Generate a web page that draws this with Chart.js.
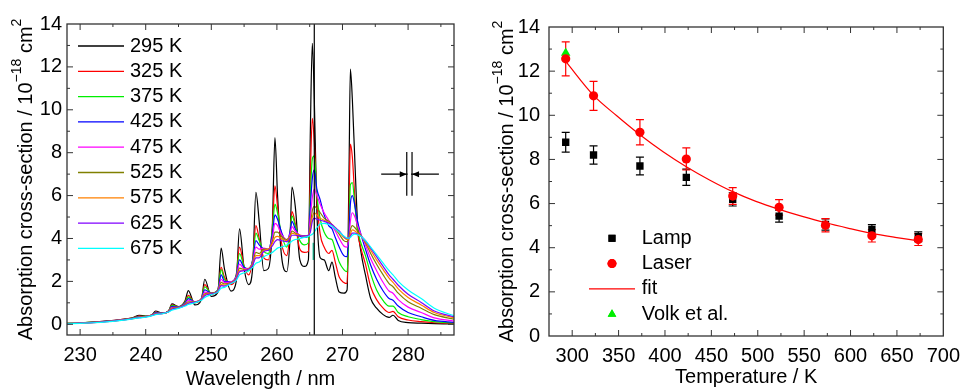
<!DOCTYPE html>
<html>
<head>
<meta charset="utf-8">
<script src="https://cdn.jsdelivr.net/npm/chart.js@4.4.0/dist/chart.umd.min.js"></script>
<style>
  body { margin: 0; background: #fff; }
  .panel { position: absolute; top: 0; width: 484px; height: 390px; }
</style>
</head>
<body>
<div class="panel" style="left:0"><canvas id="spectra" width="484" height="390"></canvas></div>
<div class="panel" style="left:484px"><canvas id="temps" width="484" height="390"></canvas></div>
<script>
// ---- left panel: absorption spectra at several temperatures ----
const wl = [228, 230, 232, 234, 236, 238, 239, 240, 241, 241.5, 242.5, 243.5, 244, 245, 246,
  246.5, 247.5, 248.5, 249, 250, 251, 251.5, 252, 253, 253.8, 254.3, 255, 255.7, 256.3,
  256.8, 257.3, 258, 258.7, 259.3, 259.7, 260.1, 260.7, 261.5, 262, 262.3, 262.8, 263.5, 264.2, 264.8,
  265.1, 265.4, 265.7, 266.1, 266.6, 267.2, 267.9, 268.4, 268.9, 269.5, 270.2, 270.7,
  271.0, 271.2, 271.5, 271.9, 272.3, 272.8, 273.5, 274.3, 275.2, 276.2, 277.1, 277.7, 278.5, 280, 282, 284, 287];

const s295 = [0.04, 0.06, 0.1, 0.15, 0.21, 0.3, 0.42, 0.38, 0.45, 0.62, 0.52, 0.62, 0.95, 0.82, 1.1,
  1.57, 0.9, 1.15, 2.1, 1.3, 1.5, 3.55, 2.6, 1.55, 2.0, 4.45, 2.6, 1.85, 2.6,
  6.15, 4.8, 2.5, 2.6, 4.5, 8.7, 6.0, 3.2, 2.45, 4.0, 6.4, 5.5, 3.0, 2.7, 3.0,
  9.0, 13.1, 10.5, 5.2, 3.1, 3.0, 2.5, 2.9, 2.2, 1.5, 1.45, 1.6,
  7.3, 11.9, 10.5, 7.5, 4.7, 3.4, 2.3, 1.2, 0.75, 0.45, 0.32, 0.42, 0.18, 0.08, 0.05, 0.03, 0.02];
const s325 = [0.04, 0.06, 0.1, 0.15, 0.21, 0.3, 0.38, 0.37, 0.44, 0.57, 0.52, 0.62, 0.9, 0.82, 1.05,
  1.35, 1.0, 1.2, 1.85, 1.4, 1.6, 2.65, 2.2, 1.85, 2.3, 3.6, 2.7, 2.3, 3.0,
  4.6, 4.0, 3.1, 3.0, 4.5, 6.45, 5.5, 3.8, 3.2, 4.2, 5.25, 4.7, 3.5, 3.35, 3.4,
  7.0, 9.6, 8.5, 5.8, 4.2, 3.6, 3.3, 3.45, 2.9, 2.2, 1.95, 1.9,
  5.5, 8.4, 7.8, 5.8, 4.3, 3.55, 2.8, 1.75, 1.15, 0.75, 0.55, 0.6, 0.35, 0.2, 0.12, 0.07, 0.04];
const s375 = [0.04, 0.06, 0.1, 0.14, 0.2, 0.29, 0.36, 0.37, 0.44, 0.55, 0.52, 0.62, 0.88, 0.81, 1.02,
  1.28, 1.02, 1.2, 1.75, 1.45, 1.6, 2.55, 2.1, 1.95, 2.3, 3.3, 2.7, 2.5, 3.0,
  4.25, 3.9, 3.4, 3.3, 4.4, 5.6, 5.2, 4.2, 3.6, 4.3, 5.05, 4.6, 3.9, 3.7, 3.8,
  6.0, 7.7, 7.85, 6.0, 4.9, 4.3, 4.0, 3.95, 3.5, 2.9, 2.55, 2.45,
  4.5, 6.5, 6.6, 5.5, 4.4, 3.8, 3.2, 2.35, 1.6, 1.1, 0.85, 0.85, 0.55, 0.35, 0.22, 0.12, 0.06];
const s425 = [0.03, 0.06, 0.09, 0.14, 0.2, 0.28, 0.35, 0.36, 0.43, 0.53, 0.52, 0.61, 0.83, 0.8, 0.98,
  1.2, 1.04, 1.2, 1.6, 1.45, 1.58, 2.3, 2.0, 1.98, 2.25, 3.0, 2.65, 2.6, 2.95,
  3.9, 3.7, 3.5, 3.45, 4.2, 5.1, 4.9, 4.3, 3.85, 4.3, 4.8, 4.45, 4.1, 4.05, 4.1,
  5.5, 6.8, 7.2, 6.3, 5.8, 5.1, 4.6, 4.45, 4.05, 3.6, 3.2, 3.15,
  4.4, 5.6, 6.0, 5.5, 4.8, 4.2, 3.5, 2.75, 2.1, 1.55, 1.2, 1.12, 0.85, 0.55, 0.35, 0.18, 0.09];
const s475 = [0.03, 0.05, 0.09, 0.13, 0.19, 0.27, 0.34, 0.36, 0.43, 0.51, 0.51, 0.6, 0.79, 0.79, 0.95,
  1.12, 1.05, 1.18, 1.5, 1.45, 1.56, 2.1, 1.95, 1.98, 2.2, 2.8, 2.6, 2.6, 2.9,
  3.6, 3.5, 3.55, 3.5, 4.0, 4.7, 4.6, 4.2, 3.95, 4.2, 4.55, 4.35, 4.15, 4.12, 4.15,
  5.0, 5.9, 6.3, 6.0, 5.6, 5.2, 4.85, 4.6, 4.35, 4.0, 3.65, 3.6,
  4.1, 4.8, 5.2, 5.0, 4.6, 4.2, 3.7, 3.05, 2.5, 1.95, 1.55, 1.45, 1.15, 0.8, 0.55, 0.3, 0.15];
const s525 = [0.03, 0.05, 0.09, 0.13, 0.19, 0.27, 0.33, 0.35, 0.42, 0.5, 0.51, 0.6, 0.76, 0.78, 0.92,
  1.05, 1.05, 1.17, 1.42, 1.45, 1.55, 1.95, 1.88, 1.95, 2.15, 2.62, 2.55, 2.6, 2.85,
  3.35, 3.3, 3.5, 3.5, 3.85, 4.3, 4.3, 4.1, 3.95, 4.1, 4.35, 4.25, 4.15, 4.12, 4.15,
  4.6, 5.3, 5.5, 5.4, 5.2, 4.95, 4.8, 4.65, 4.45, 4.2, 3.9, 3.85,
  4.05, 4.4, 4.6, 4.5, 4.35, 4.15, 3.8, 3.3, 2.8, 2.3, 1.9, 1.75, 1.45, 1.05, 0.75, 0.45, 0.24];
const s575 = [0.03, 0.05, 0.08, 0.12, 0.18, 0.26, 0.32, 0.35, 0.42, 0.49, 0.5, 0.59, 0.73, 0.77, 0.9,
  1.0, 1.04, 1.16, 1.38, 1.43, 1.53, 1.85, 1.82, 1.93, 2.1, 2.52, 2.52, 2.6, 2.8,
  3.2, 3.2, 3.45, 3.5, 3.75, 4.05, 4.1, 4.0, 3.9, 4.05, 4.25, 4.2, 4.15, 4.12, 4.15,
  4.4, 5.0, 5.2, 5.1, 4.95, 4.85, 4.75, 4.65, 4.5, 4.3, 4.05, 3.95,
  4.0, 4.2, 4.4, 4.35, 4.25, 4.1, 3.85, 3.45, 3.0, 2.55, 2.15, 1.95, 1.65, 1.25, 0.9, 0.55, 0.3];
const s625 = [0.02, 0.05, 0.08, 0.12, 0.18, 0.26, 0.31, 0.34, 0.41, 0.47, 0.5, 0.58, 0.7, 0.76, 0.88,
  0.98, 1.03, 1.15, 1.33, 1.42, 1.52, 1.8, 1.78, 1.92, 2.08, 2.45, 2.5, 2.58, 2.75,
  3.1, 3.1, 3.4, 3.45, 3.65, 3.85, 3.95, 3.9, 3.85, 4.0, 4.15, 4.15, 4.12, 4.12, 4.15,
  4.3, 4.8, 4.95, 4.9, 4.85, 4.8, 4.72, 4.65, 4.5, 4.35, 4.1, 4.0,
  4.0, 4.1, 4.25, 4.25, 4.2, 4.1, 3.9, 3.55, 3.15, 2.7, 2.3, 2.1, 1.82, 1.4, 1.02, 0.62, 0.35];
const s675 = [0.02, 0.04, 0.07, 0.11, 0.17, 0.25, 0.3, 0.33, 0.4, 0.45, 0.49, 0.57, 0.66, 0.74, 0.85,
  0.92, 1.0, 1.12, 1.25, 1.38, 1.5, 1.68, 1.72, 1.9, 2.05, 2.3, 2.4, 2.5, 2.65,
  2.85, 2.9, 3.15, 3.25, 3.35, 3.45, 3.55, 3.6, 3.7, 3.8, 3.88, 3.95, 4.0, 4.05, 4.1,
  4.15, 4.2, 4.3, 4.5, 4.68, 4.7, 4.65, 4.58, 4.45, 4.3, 4.12, 4.02,
  4.02, 4.05, 4.15, 4.2, 4.17, 4.1, 3.9, 3.6, 3.25, 2.85, 2.5, 2.3, 2.0, 1.6, 1.2, 0.75, 0.4];

const tempLabels = ['295 K', '325 K', '375 K', '425 K', '475 K', '525 K', '575 K', '625 K', '675 K'];
const spectra = [s295, s325, s375, s425, s475, s525, s575, s625, s675];

// marker line at the laser wavelength
const laserWl = 265.7;
const markWl = 265.55;
const markRange = [3.0, 3.8];

const xTicksLeft = [230, 240, 250, 260, 270, 280];
const yTicks = [0, 2, 4, 6, 8, 10, 12, 14];

// ---- right panel: cross-section vs temperature ----
const tempK = [293, 323, 373, 423, 473, 523, 573, 623, 673];
const lampVals = [8.78, 8.2, 7.7, 7.19, 6.19, 5.43, 5.05, 4.83, 4.5];
const lampErr = [0.45, 0.41, 0.4, 0.37, 0.3, 0.27, 0.25, 0.22, 0.22];
const laserVals = [12.56, 10.88, 9.23, 8.02, 6.34, 5.83, 5.02, 4.54, 4.37];
const laserErr = [0.77, 0.66, 0.57, 0.5, 0.38, 0.35, 0.3, 0.28, 0.27];
const volkT = [293];
const volkVals = [12.82];
const fitT = [293, 323, 348, 373, 398, 423, 448, 473, 498, 523, 548, 573, 598, 623, 648, 673];
const fitVals = [12.44, 10.9, 9.98, 9.12, 8.35, 7.67, 7.07, 6.54, 6.1, 5.74, 5.42, 5.13, 4.88, 4.65, 4.47, 4.31];
const xTicksRight = [300, 350, 400, 450, 500, 550, 600, 650, 700];

const seriesColors = ['#000000', '#ff0000', '#00ee00', '#0000ff', '#ff00ff', '#808000', '#ff8000', '#8000ff', '#00ffff'];
const FONT = "'Liberation Sans', Arial, sans-serif";

// frame with inward ticks on all four sides
const frameTicks = {
    id: 'frameTicks',
    afterDraw(chart) {
        const { ctx, chartArea: a, scales: { x, y } } = chart;
        ctx.save();
        ctx.strokeStyle = '#333';
        ctx.lineWidth = 1.3;
        ctx.strokeRect(a.left, a.top, a.right - a.left, a.bottom - a.top);
        ctx.lineWidth = 1;
        const mark = (scale, horiz) => {
            const vals = scale.ticks.map(t => t.value);
            const step = (vals[1] - vals[0]) / 2;
            const all = [];
            for (let v = vals[0] - 2 * step; v <= scale.max + 1e-9; v += step) {
                if (v > scale.min + 1e-9 && v < scale.max - 1e-9) {
                    const major = vals.some(m => Math.abs(m - v) < 1e-6);
                    all.push([scale.getPixelForValue(v), major ? 6 : 3]);
                }
            }
            ctx.beginPath();
            all.forEach(([p, len]) => {
                if (horiz) {
                    ctx.moveTo(p, a.bottom); ctx.lineTo(p, a.bottom - len);
                    ctx.moveTo(p, a.top); ctx.lineTo(p, a.top + len);
                } else {
                    ctx.moveTo(a.left, p); ctx.lineTo(a.left + len, p);
                    ctx.moveTo(a.right, p); ctx.lineTo(a.right - len, p);
                }
            });
            ctx.stroke();
        };
        mark(x, true);
        mark(y, false);
        ctx.restore();
    }
};

// axis titles, y title with superscripts
const axisTitles = {
    id: 'axisTitles',
    afterDraw(chart, args, opts) {
        const { ctx, chartArea: a } = chart;
        ctx.save();
        ctx.fillStyle = '#000';
        ctx.font = '20px ' + FONT;
        ctx.textAlign = 'center';
        ctx.textBaseline = 'middle';
        ctx.fillText(opts.xTitle, (a.left + a.right) / 2, a.bottom + opts.xOffset);

        ctx.translate(a.left - opts.yOffset, (a.top + a.bottom) / 2);
        ctx.rotate(-Math.PI / 2);
        const parts = [
            ['Absorption cross-section / 10', false],
            ['\u221218', true],
            [' cm', false],
            ['2', true]
        ];
        const fontFor = sup => (sup ? '14px ' : '20px ') + FONT;
        let total = 0;
        parts.forEach(([t, sup]) => { ctx.font = fontFor(sup); total += ctx.measureText(t).width; });
        let xx = -total / 2;
        ctx.textAlign = 'left';
        ctx.textBaseline = 'alphabetic';
        parts.forEach(([t, sup]) => {
            ctx.font = fontFor(sup);
            ctx.fillText(t, xx, sup ? -4 : 7);
            xx += ctx.measureText(t).width;
        });
        ctx.restore();
    }
};

// legend of the spectra, inside the plot
const spectraLegend = {
    id: 'spectraLegend',
    afterDraw(chart) {
        const { ctx, chartArea: a } = chart;
        ctx.save();
        ctx.font = '20px ' + FONT;
        ctx.textBaseline = 'middle';
        ctx.fillStyle = '#000';
        tempLabels.forEach((lab, i) => {
            const yy = a.top + 22 + i * 25.3;
            ctx.strokeStyle = seriesColors[i];
            ctx.lineWidth = 1.3;
            ctx.beginPath();
            ctx.moveTo(a.left + 11, yy);
            ctx.lineTo(a.left + 57, yy);
            ctx.stroke();
            ctx.fillText(lab, a.left + 63, yy);
        });
        ctx.restore();
    }
};

// resolution symbol (arrows + double bar)
const resolutionMark = {
    id: 'resolutionMark',
    afterDraw(chart) {
        const { ctx, scales: { x, y } } = chart;
        const yy = y.getPixelForValue(7.0);
        const l = x.getPixelForValue(275.9), r = x.getPixelForValue(284.7);
        const b1 = x.getPixelForValue(279.95), b2 = x.getPixelForValue(280.45);
        const top = y.getPixelForValue(8.03), bot = y.getPixelForValue(5.99);
        ctx.save();
        ctx.strokeStyle = '#000';
        ctx.fillStyle = '#000';
        ctx.lineWidth = 1.2;
        ctx.beginPath();
        ctx.moveTo(l, yy); ctx.lineTo(b1, yy);
        ctx.moveTo(b2, yy); ctx.lineTo(r, yy);
        ctx.moveTo(b1 - 1, top); ctx.lineTo(b1 - 1, bot);
        ctx.moveTo(b2 + 1, top); ctx.lineTo(b2 + 1, bot);
        ctx.stroke();
        ctx.beginPath();
        ctx.moveTo(b1 - 1, yy); ctx.lineTo(b1 - 8, yy - 3); ctx.lineTo(b1 - 8, yy + 3); ctx.closePath();
        ctx.moveTo(b2 + 1, yy); ctx.lineTo(b2 + 8, yy - 3); ctx.lineTo(b2 + 8, yy + 3); ctx.closePath();
        ctx.fill();
        ctx.restore();
    }
};

// error bars for the right panel
const errorBars = {
    id: 'errorBars',
    beforeDatasetsDraw(chart) {
        const { ctx, scales: { x, y } } = chart;
        ctx.save();
        ctx.lineWidth = 1.2;
        chart.data.datasets.forEach(ds => {
            if (!ds.errors) return;
            ctx.strokeStyle = ds.borderColor;
            ds.data.forEach((p, i) => {
                const px = x.getPixelForValue(p.x);
                const hi = y.getPixelForValue(p.y + ds.errors[i]);
                const lo = y.getPixelForValue(p.y - ds.errors[i]);
                ctx.beginPath();
                ctx.moveTo(px, hi); ctx.lineTo(px, lo);
                ctx.moveTo(px - 4, hi); ctx.lineTo(px + 4, hi);
                ctx.moveTo(px - 4, lo); ctx.lineTo(px + 4, lo);
                ctx.stroke();
            });
        });
        ctx.restore();
    }
};

// legend of the right panel
const tempLegend = {
    id: 'tempLegend',
    afterDraw(chart) {
        const { ctx } = chart;
        const items = [
            { label: 'Lamp', kind: 'rect', color: '#000' },
            { label: 'Laser', kind: 'circle', color: '#ff0000' },
            { label: 'fit', kind: 'line', color: '#ff0000' },
            { label: 'Volk et al.', kind: 'triangle', color: '#00ee00' }
        ];
        ctx.save();
        ctx.font = '20px ' + FONT;
        ctx.textBaseline = 'middle';
        items.forEach((it, i) => {
            const yy = 238.3 + i * 25.3;
            const cx = 128;
            ctx.fillStyle = it.color;
            ctx.strokeStyle = it.color;
            if (it.kind === 'line') {
                ctx.lineWidth = 1.2;
                ctx.beginPath(); ctx.moveTo(105, yy); ctx.lineTo(151, yy); ctx.stroke();
            } else {
                Chart.helpers.drawPoint(ctx, { pointStyle: it.kind, radius: it.kind === 'circle' ? 4.5 : 5, borderWidth: 0 }, cx, yy);
                ctx.fill();
            }
            ctx.fillStyle = '#000';
            ctx.fillText(it.label, 157.7, yy);
        });
        ctx.restore();
    }
};

function tickFont() { return { family: FONT, size: 20 }; }

function fixedTicks(arr) {
    return scale => { scale.ticks = arr.map(v => ({ value: v })); };
}

// ---- left chart ----
const spectraSets = spectra.map((s, i) => ({
    label: tempLabels[i],
    data: wl.map((w, j) => ({ x: w, y: s[j] })),
    borderColor: seriesColors[i],
    borderWidth: 1.2,
    pointRadius: 0,
    cubicInterpolationMode: 'monotone',
    order: 9 - i
}));
spectraSets.push({
    label: '_laser',
    data: [{ x: laserWl, y: -0.5 }, { x: laserWl, y: 14 }],
    borderColor: '#000', borderWidth: 1.2, pointRadius: 0, order: 0
});
spectraSets.push({
    label: '_mark',
    data: [{ x: markWl, y: markRange[0] }, { x: markWl, y: markRange[1] }],
    borderColor: '#20c8a0', borderWidth: 1.5, pointRadius: 0, order: 0
});

new Chart(document.getElementById('spectra'), {
    type: 'line',
    data: { datasets: spectraSets },
    options: {
        responsive: false,
        animation: false,
        devicePixelRatio: 1,
        layout: { padding: { top: 24, right: 30, left: 0, bottom: 0 } },
        plugins: {
            legend: { display: false },
            tooltip: { enabled: false },
            axisTitles: { xTitle: 'Wavelength / nm', xOffset: 44, yOffset: 42 }
        },
        scales: {
            x: {
                type: 'linear', min: 228, max: 287,
                afterBuildTicks: fixedTicks(xTicksLeft),
                afterFit: s => { s.height = 55; },
                grid: { display: false, drawTicks: false },
                border: { display: false },
                ticks: { font: tickFont(), color: '#000', padding: 8, maxRotation: 0, autoSkip: false }
            },
            y: {
                type: 'linear', min: -0.5, max: 14,
                afterBuildTicks: fixedTicks(yTicks),
                afterFit: s => { s.width = 67; },
                grid: { display: false, drawTicks: false },
                border: { display: false },
                ticks: { font: tickFont(), color: '#000', padding: 5 }
            }
        }
    },
    plugins: [frameTicks, axisTitles, spectraLegend, resolutionMark]
});

// ---- right chart ----
new Chart(document.getElementById('temps'), {
    type: 'scatter',
    data: {
        datasets: [
            {
                label: 'Lamp',
                data: tempK.map((t, i) => ({ x: t, y: lampVals[i] })),
                errors: lampErr,
                pointStyle: 'rect', pointRadius: 5.2,
                backgroundColor: '#000', borderColor: '#000', borderWidth: 0,
                order: 3
            },
            {
                label: 'Laser',
                data: tempK.map((t, i) => ({ x: t, y: laserVals[i] })),
                errors: laserErr,
                pointStyle: 'circle', pointRadius: 4.6,
                backgroundColor: '#ff0000', borderColor: '#ff0000', borderWidth: 0,
                order: 0
            },
            {
                label: 'fit',
                type: 'line',
                data: fitT.map((t, i) => ({ x: t, y: fitVals[i] })),
                borderColor: '#ff0000', borderWidth: 1.2, pointRadius: 0,
                cubicInterpolationMode: 'monotone',
                order: 1
            },
            {
                label: 'Volk et al.',
                data: volkT.map((t, i) => ({ x: t, y: volkVals[i] })),
                pointStyle: 'triangle', pointRadius: 5.5,
                backgroundColor: '#00ee00', borderColor: '#00ee00', borderWidth: 0,
                order: 2
            }
        ]
    },
    options: {
        responsive: false,
        animation: false,
        devicePixelRatio: 1,
        layout: { padding: { top: 27, right: 16, left: 0, bottom: 0 } },
        plugins: {
            legend: { display: false },
            tooltip: { enabled: false },
            axisTitles: { xTitle: 'Temperature / K', xOffset: 41, yOffset: 43.5 }
        },
        scales: {
            x: {
                type: 'linear', min: 275, max: 700,
                afterBuildTicks: fixedTicks(xTicksRight),
                afterFit: s => { s.height = 54; },
                grid: { display: false, drawTicks: false },
                border: { display: false },
                ticks: { font: tickFont(), color: '#000', padding: 8, maxRotation: 0, autoSkip: false }
            },
            y: {
                type: 'linear', min: 0, max: 14,
                afterBuildTicks: fixedTicks(yTicks),
                afterFit: s => { s.width = 65; },
                grid: { display: false, drawTicks: false },
                border: { display: false },
                ticks: { font: tickFont(), color: '#000', padding: 9 }
            }
        }
    },
    plugins: [frameTicks, axisTitles, errorBars, tempLegend]
});
</script>
</body>
</html>
